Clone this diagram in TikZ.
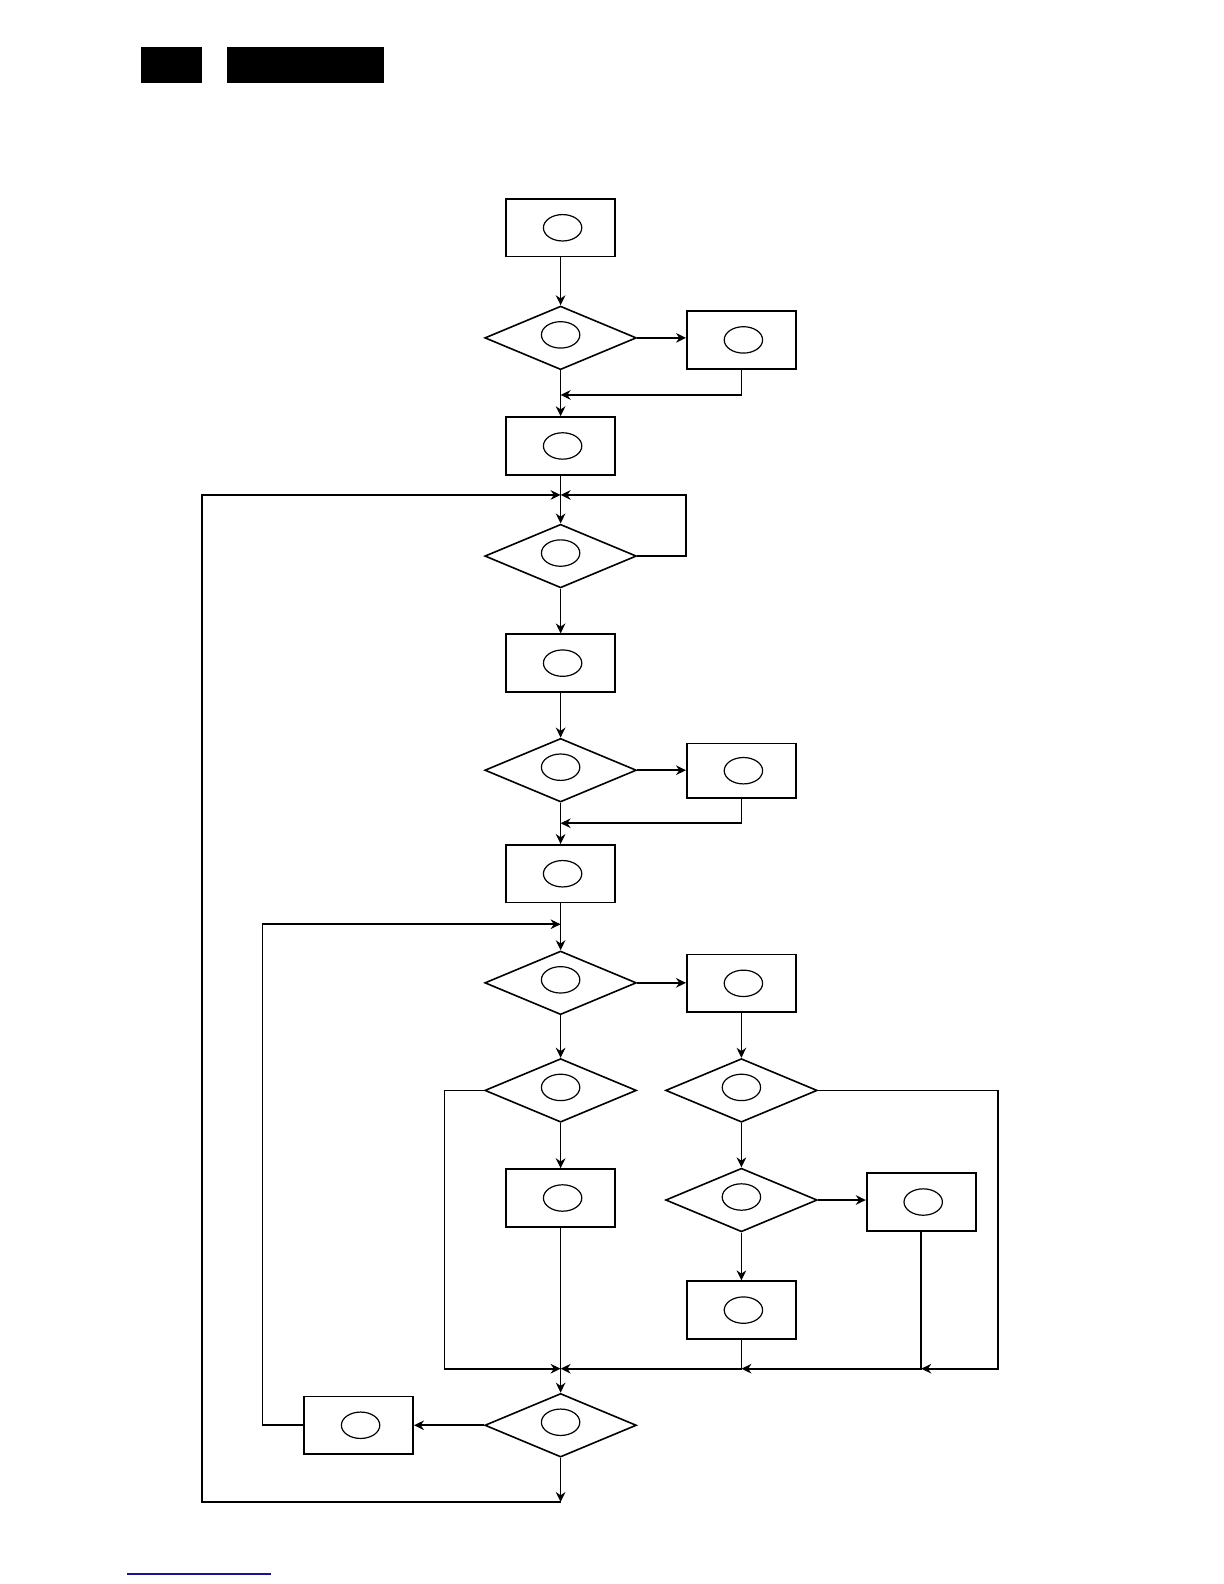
\documentclass[tikz,border=0pt]{standalone}
\usetikzlibrary{shapes.geometric,arrows.meta}
\definecolor{linkblue}{RGB}{20,20,150}
\begin{document}
\begin{tikzpicture}[x=0.50505pt,y=-0.50505pt,
  box/.style={draw, rectangle, minimum width=54.5pt, minimum height=28.8pt, inner sep=0pt, line width=0.9pt},
  dia/.style={draw, diamond, minimum width=75.8pt, minimum height=31.8pt, inner sep=0pt, line width=0.8pt},
  ell/.style={draw, ellipse, minimum width=19.2pt, minimum height=13.2pt, inner sep=0pt, line width=0.6pt},
  arr/.style={-{Stealth[length=5pt,width=4.8pt]}, line width=0.8pt}]
\useasboundingbox (0pt,0pt) rectangle (612pt,-792pt);
% header bars
\fill (140,47) rectangle (200,82);
\fill (225,47) rectangle (380,82);
% nodes
\node[box] (A)  at (555,225.5) {};
\node[dia] (D1) at (555,334.5) {};
\node[box] (B1) at (734,336.5) {};
\node[box] (C)  at (555,441.5) {};
\node[dia] (D2) at (555,550.5) {};
\node[box] (E)  at (555,656.5) {};
\node[dia] (D3) at (555,762.5) {};
\node[box, minimum height=27.3pt] (B2) at (734,763) {};
\node[box] (F)  at (555,865) {};
\node[dia] (D4) at (555,973) {};
\node[box] (B3) at (734,973.5) {};
\node[dia] (D5) at (555,1079.5) {};
\node[dia] (D6) at (734,1079.5) {};
\node[box] (G)  at (555,1186) {};
\node[dia] (D8) at (734,1188) {};
\node[box] (H)  at (912,1190) {};
\node[box] (I)  at (734,1297) {};
\node[dia] (D7) at (555,1411) {};
\node[box] (J)  at (355,1411) {};
% ellipses
\foreach \n in {A,B1,C,E,B2,F,B3,G,H,I,J}{
  \node[ell] (e\n) at ([xshift=1pt]\n.center) {};
}
\foreach \n in {D1,D2,D3,D4,D5,D6,D8,D7}{
  \node[ell] (e\n) at ([yshift=1.5pt]\n.center) {};
}
% junction coordinates
\coordinate (j1) at (555,391);
\coordinate (j2) at (555,490);
\coordinate (j3) at (555,815);
\coordinate (j4) at (555,915);
\coordinate (j5) at (555,1355);
\coordinate (j6) at (734,1355);
\coordinate (j7) at (912,1355);
\coordinate (b1) at (555,1487);
\coordinate (L1) at (200,1487);
\coordinate (L2) at (200,490);
\coordinate (R2) at (679,490);
\coordinate (L4) at (260,915);
\coordinate (L5) at (440,1355);
\coordinate (R6) at (988,1355);
% connectors
\draw[arr] (A.south) -- (D1.north);
\draw[arr] (D1.east) -- (D1.east -| B1.west);
\draw[arr] (B1.south) |- (j1);
\draw[arr] (D1.south) -- (C.north);
\draw[arr] (C.south) -- (D2.north);
\draw[arr] (b1) -- (L1) -- (L2) -- (j2);
\draw[arr] (D2.east) -| (R2) -- (j2);
\draw[arr] (D2.south) -- (E.north);
\draw[arr] (E.south) -- (D3.north);
\draw[arr] (D3.east) -- (D3.east -| B2.west);
\draw[arr] (B2.south) |- (j3);
\draw[arr] (D3.south) -- (F.north);
\draw[arr] (F.south) -- (D4.north);
\draw[arr] (J.west) -| (L4) -- (j4);
\draw[arr] (D4.east) -- (D4.east -| B3.west);
\draw[arr] (D4.south) -- (D5.north);
\draw[arr] (B3.south) -- (D6.north);
\draw[arr] (D5.west) -| (L5) -- (j5);
\draw[arr] (D5.south) -- (G.north);
\draw[arr] (G.south) -- (D7.north);
\draw[arr] (D6.south) -- (D8.north);
\draw[arr] (D8.east) -- (D8.east -| H.west);
\draw[arr] (D8.south) -- (I.north);
\draw[arr] (I.south) |- (j5);
\draw[arr] (H.south) |- (j6);
\draw[arr] (D6.east) -| (R6) -- (j7);
\draw[arr] (D7.west) -- (J.east);
\draw[arr] (D7.south) -- (b1);
% footer line
\draw[linkblue, line width=1pt] (126,1558) -- (268,1558);
\end{tikzpicture}
\end{document}
